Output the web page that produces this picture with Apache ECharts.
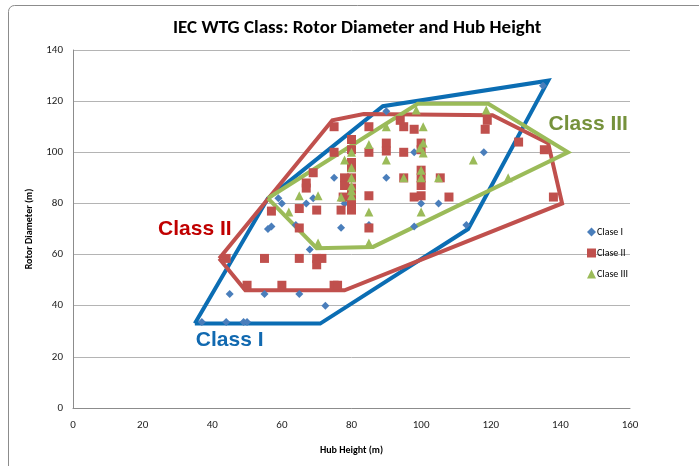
<!DOCTYPE html>
<html>
<head>
<meta charset="utf-8">
<script src="https://cdn.jsdelivr.net/npm/echarts@6/dist/echarts.min.js"></script>
<style>
  html, body { margin: 0; padding: 0; background: #fff; }
  #chart { width: 699px; height: 466px; }
</style>
</head>
<body>
<div id="chart"></div>
<script>
// hub height (m), rotor diameter (m)
const classI = [
  [37, 33.6], [44, 33.6], [49, 33.6], [50, 33.6], [45, 44.6], [55, 44.6], [65, 44.6], [72.5, 40],
  [68, 62], [56, 70], [57, 71], [59, 82], [60, 80], [67, 80], [69, 82], [64, 71.6],
  [75, 90], [77, 70.5], [78, 80], [85, 71.6], [90, 116], [90, 90], [98, 100], [100, 80],
  [105, 80], [98, 71], [113, 71.6], [118, 100], [135, 126]
];
const classII = [
  [44, 58.5], [55, 58.5], [65, 58.5], [70, 58.5], [71.5, 58.5], [70, 56], [50, 48], [60, 48],
  [75, 48], [76, 48], [57, 77], [65, 78], [70, 77.4], [65, 70.4], [69, 92], [67, 88], [67, 86],
  [75, 110], [75, 100], [77, 77.4], [78, 90], [78, 87], [77.6, 82.5], [80, 105], [80, 101],
  [80, 96], [80, 94], [80, 90], [80, 86], [80, 83], [80, 80], [80, 77.4],
  [85, 110], [85, 100], [85, 83], [85, 70.4], [90, 103.6], [90, 100.5],
  [95, 110], [94, 112.5], [95, 100], [95, 90], [98, 109], [98, 82.5],
  [100, 103.6], [100, 101], [100, 93], [100, 90], [100, 87], [100, 83],
  [105.5, 90], [108, 82.5], [118.4, 109], [119, 112.5], [128, 104], [135.4, 101], [138, 82.5]
];
const classIII = [
  [62, 76.6], [65, 83], [70.4, 83], [70.4, 64.5], [77, 82.5], [78, 97], [80, 100], [80, 94],
  [80, 90], [80, 86.8], [80, 85], [80, 83], [85, 103], [85, 76.6], [85, 64.5], [90, 110],
  [90, 97], [95, 90], [98.6, 116.5], [100.6, 110], [100.6, 103.6], [99.7, 101.7], [100.6, 99.7],
  [100, 93], [100, 90], [100, 76.6], [105, 90], [115, 97], [118.7, 116.5], [125, 90]
];

// envelopes drawn around each class (closed)
const envI = [[35, 33], [56, 82], [89, 118], [136.5, 128], [113.5, 70], [71, 33], [35, 33]];
const envII = [[42, 58.5], [49.5, 46], [78, 46], [140.5, 80], [136.5, 103.5], [120.5, 114.5], [83.5, 115], [74.5, 112.5], [42, 58.5]];
const envIII = [[56, 82], [99, 119], [119.3, 119], [142.2, 100], [86.2, 63], [70, 62.5], [56, 82]];

const classNames = ['Clase I', 'Clase II', 'Clase III'];
const envNames = ['Class I', 'Class II', 'Class III'];
const envLabelAt = [[45, 26.5], [35, 70], [148, 111]];

const xTicks = { min: 0, max: 160, step: 20 };
const yTicks = { min: 0, max: 140, step: 20 };

const font = "'Liberation Sans', Arial, sans-serif";
const calibri = "Carlito, 'Liberation Sans Narrow', 'Liberation Sans', sans-serif";
const chart = echarts.init(document.getElementById('chart'), null, { renderer: 'canvas' });

const envSeries = (name, data, color, labelColor, at) => ({
  name: name,
  type: 'line',
  data: data,
  showSymbol: false,
  symbol: 'none',
  z: 1,
  silent: true,
  lineStyle: { color: color, width: 4, join: 'miter' },
  markPoint: {
    symbol: 'circle',
    symbolSize: 0,
    data: [{ coord: at, value: name }],
    label: {
      show: true,
      position: 'inside',
      formatter: name,
      color: labelColor,
      fontSize: 21,
      fontWeight: 'bold',
      fontFamily: font
    }
  }
});

chart.setOption({
  backgroundColor: '#fff',
  animation: false,
  title: {
    text: 'IEC WTG Class: Rotor Diameter and Hub Height',
    left: 168,
    top: 14,
    textStyle: { fontSize: 19, fontWeight: 'bold', color: '#000', fontFamily: calibri }
  },
  legend: {
    orient: 'vertical',
    left: 582,
    top: 222,
    itemGap: 11,
    itemWidth: 9,
    itemHeight: 9,
    data: [
      { name: classNames[0], icon: 'diamond' },
      { name: classNames[1], icon: 'rect' },
      { name: classNames[2], icon: 'triangle' }
    ],
    textStyle: { fontSize: 10, color: '#000', fontFamily: calibri, padding: [0, 0, 0, -4] }
  },
  grid: { left: 73, right: 69, top: 50, bottom: 58, containLabel: false },
  xAxis: {
    type: 'value',
    min: xTicks.min, max: xTicks.max, interval: xTicks.step,
    name: 'Hub Height (m)',
    nameLocation: 'middle',
    nameGap: 37,
    nameTextStyle: { fontSize: 10, fontWeight: 'bold', color: '#000', fontFamily: calibri },
    axisLine: { show: true, lineStyle: { color: '#8c8c8c', width: 1 } },
    axisTick: { show: false },
    axisLabel: { fontSize: 11, color: '#222', margin: 12, fontFamily: calibri },
    splitLine: { show: false }
  },
  yAxis: {
    type: 'value',
    min: yTicks.min, max: yTicks.max, interval: yTicks.step,
    name: 'Rotor Diameter (m)',
    nameLocation: 'middle',
    nameGap: 39,
    nameTextStyle: { fontSize: 10, fontWeight: 'bold', color: '#000', fontFamily: calibri },
    axisLine: { show: true, lineStyle: { color: '#8c8c8c', width: 1 } },
    axisTick: { show: false },
    axisLabel: { fontSize: 11, color: '#222', margin: 10, fontFamily: calibri },
    splitLine: { show: true, lineStyle: { color: '#b4b4b4', width: 1 } }
  },
  graphic: [{
    type: 'rect',
    shape: { x: 8.5, y: 5.5, width: 720, height: 480, r: 6 },
    style: { fill: 'none', stroke: '#8c8c8c', lineWidth: 1 },
    silent: true,
    z: -1
  }],
  series: [
    envSeries(envNames[0], envI, '#0b6db3', '#1169b0', envLabelAt[0]),
    envSeries(envNames[1], envII, '#c0504d', '#c00000', envLabelAt[1]),
    envSeries(envNames[2], envIII, '#9bbb59', '#76923c', envLabelAt[2]),
    {
      name: classNames[0], type: 'scatter', data: classI, symbol: 'diamond', symbolSize: 8, z: 3,
      itemStyle: { color: '#4a7ebb', opacity: 1 }
    },
    {
      name: classNames[1], type: 'scatter', data: classII, symbol: 'rect', symbolSize: 9, z: 4,
      itemStyle: { color: '#c0504d', opacity: 1 }
    },
    {
      name: classNames[2], type: 'scatter', data: classIII, symbol: 'triangle', symbolSize: 9, z: 5,
      itemStyle: { color: '#9bbb59', opacity: 1 }
    }
  ]
});
</script>
</body>
</html>
